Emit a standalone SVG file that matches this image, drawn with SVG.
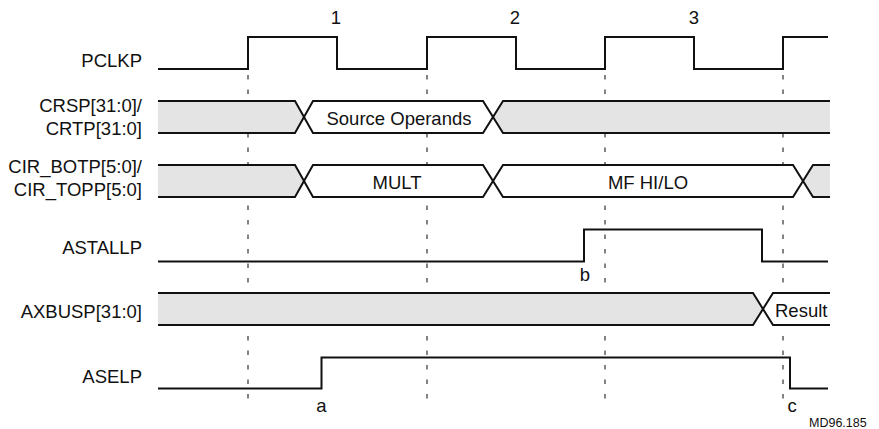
<svg xmlns="http://www.w3.org/2000/svg" width="879" height="429" viewBox="0 0 879 429">
<style>
text{font-family:"Liberation Sans",Arial,sans-serif;font-size:18.5px;fill:#111}
.lbl{text-anchor:end}
.mid{text-anchor:middle}
.sig{fill:none;stroke:#111;stroke-width:2;stroke-linejoin:miter}
.grid{stroke:#333;stroke-width:1.2;stroke-dasharray:4.5 10}
.g{fill:#e4e4e4;stroke:none}
.w{fill:#fff;stroke:none}
.small{font-size:12.5px}
</style>
<rect width="879" height="429" fill="#fff"/>
<g id="connectors">
<line class="grid" x1="248" y1="75" x2="248" y2="400"/>
<line class="grid" x1="427" y1="75" x2="427" y2="400"/>
<line class="grid" x1="605" y1="75" x2="605" y2="400"/>
<line class="grid" x1="783" y1="75" x2="783" y2="400"/>
</g>
<g id="cycle-labels">
<text class="mid" x="336" y="23.5">1</text>
<text class="mid" x="515" y="23.5">2</text>
<text class="mid" x="694" y="23.5">3</text>
</g>
<g id="PCLKP">
<text class="lbl" x="142" y="66.5">PCLKP</text>
<path class="sig" d="M158,69 H248 V37 H337 V69 H427 V37 H516 V69 H605 V37 H694 V69 H783 V37 H828"/>
</g>
<g id="CRSP">
<text class="lbl" x="142" y="111.5">CRSP[31:0]/</text>
<text class="lbl" x="142" y="134.5">CRTP[31:0]</text>
<path class="g" d="M158,101 H295 L304,117 L295,133 H158 Z"/>
<path class="w" d="M313,101 H483 L493,117 L483,133 H313 L304,117 Z"/>
<path class="g" d="M503,101 H830 V133 H503 L493,117 Z"/>
<path class="sig" d="M158,101 H295 L313,133 H483 L503,101 H830"/>
<path class="sig" d="M158,133 H295 L313,101 H483 L503,133 H830"/>
<text class="mid" x="399" y="124.5">Source Operands</text>
</g>
<g id="CIR">
<text class="lbl" x="142" y="172.5">CIR_BOTP[5:0]/</text>
<text class="lbl" x="142" y="196">CIR_TOPP[5:0]</text>
<path class="g" d="M158,165 H295 L304,181 L295,197 H158 Z"/>
<path class="w" d="M313,165 H483 L493,181 L483,197 H313 L304,181 Z"/>
<path class="w" d="M503,165 H793 L803,181 L793,197 H503 L493,181 Z"/>
<path class="g" d="M813,165 H830 V197 H813 L803,181 Z"/>
<path class="sig" d="M158,165 H295 L313,197 H483 L503,165 H793 L813,197 H830"/>
<path class="sig" d="M158,197 H295 L313,165 H483 L503,197 H793 L813,165 H830"/>
<text class="mid" x="397" y="188.5">MULT</text>
<text class="mid" x="648" y="188.5">MF HI/LO</text>
</g>
<g id="ASTALLP">
<text class="lbl" x="142" y="253.5">ASTALLP</text>
<path class="sig" d="M158,261.5 H584 V229.5 H762 V261.5 H828"/>
<text class="mid" x="585" y="281">b</text>
</g>
<g id="AXBUSP">
<text class="lbl" x="142" y="318">AXBUSP[31:0]</text>
<path class="g" d="M158,293 H753 L763,309 L753,325 H158 Z"/>
<path class="w" d="M773,293 H830 V325 H773 L763,309 Z"/>
<path class="sig" d="M158,293 H753 L773,325 H830"/>
<path class="sig" d="M158,325 H753 L773,293 H830"/>
<text x="775" y="316.7">Result</text>
</g>
<g id="ASELP">
<text class="lbl" x="142" y="382.5">ASELP</text>
<path class="sig" d="M158,388.5 H321.5 V357.5 H790 V388.5 H828"/>
<text class="mid" x="321.5" y="411.7">a</text>
<text class="mid" x="792" y="412">c</text>
</g>
<g id="figure-id">
<text class="small" x="809" y="426.7">MD96.185</text>
</g>
</svg>
